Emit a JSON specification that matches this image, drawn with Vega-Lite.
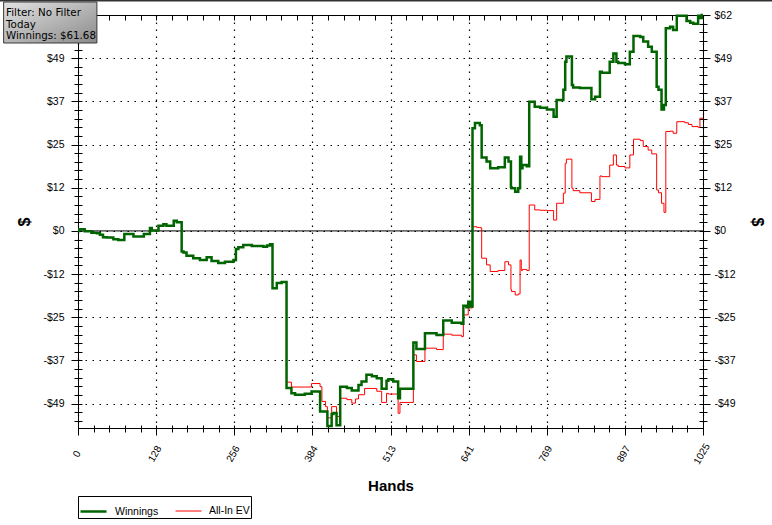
{
 "$schema": "https://vega.github.io/schema/vega-lite/v6.json",
 "width": 625,
 "height": 413,
 "autosize": {"type": "none"},
 "padding": {"left": 78, "top": 15, "right": 69, "bottom": 97},
 "background": "white",
 "datasets": {
  "win": [
   {"hand":0,"usd":0},{"hand":2,"usd":0.5},{"hand":11,"usd":-0.1},{"hand":22,"usd":-0.5},{"hand":31,"usd":-0.7},{"hand":36,"usd":-1.1},{"hand":41,"usd":-1.8},{"hand":47,"usd":-1.9},{"hand":58,"usd":-2.4},{"hand":66,"usd":-2.6},{"hand":76,"usd":-0.9},{"hand":91,"usd":-1.6},{"hand":108,"usd":-0.9},{"hand":118,"usd":0.8},{"hand":121,"usd":0.1},{"hand":132,"usd":1.5},{"hand":140,"usd":1.9},{"hand":145,"usd":1.5},{"hand":157,"usd":2.9},{"hand":162,"usd":2.5},{"hand":170,"usd":-5.9},{"hand":173,"usd":-6.2},{"hand":178,"usd":-7.1},{"hand":189,"usd":-7.8},{"hand":200,"usd":-8.3},{"hand":211,"usd":-7.5},{"hand":219,"usd":-8.6},{"hand":230,"usd":-9.2},{"hand":241,"usd":-8.8},{"hand":255,"usd":-8.3},{"hand":259,"usd":-5.2},{"hand":263,"usd":-4.7},{"hand":271,"usd":-4.0},{"hand":285,"usd":-4.3},{"hand":304,"usd":-4.5},{"hand":310,"usd":-4.2},{"hand":315,"usd":-3.8},{"hand":319,"usd":-16.4},{"hand":326,"usd":-14.9},{"hand":334,"usd":-14.6},
   {"hand":342,"usd":-44.9},{"hand":350,"usd":-46.4},{"hand":356,"usd":-46.8},{"hand":372,"usd":-46.5},{"hand":383,"usd":-45.9},{"hand":397,"usd":-51.6},{"hand":409,"usd":-55.7},{"hand":416,"usd":-52.3},{"hand":419,"usd":-52.0},{"hand":424,"usd":-55.5},{"hand":430,"usd":-44.5},{"hand":441,"usd":-44.9},{"hand":449,"usd":-45.6},{"hand":460,"usd":-44.0},{"hand":465,"usd":-43.0},{"hand":473,"usd":-41.1},{"hand":482,"usd":-41.5},{"hand":490,"usd":-42.1},{"hand":498,"usd":-45.1},{"hand":506,"usd":-42.8},{"hand":509,"usd":-42.4},{"hand":517,"usd":-43.0},{"hand":525,"usd":-47.8},{"hand":528,"usd":-45.1},{"hand":550,"usd":-31.9},{"hand":555,"usd":-33.7},{"hand":569,"usd":-29.2},{"hand":588,"usd":-29.7},{"hand":599,"usd":-25.6},{"hand":613,"usd":-26.2},{"hand":629,"usd":-26.5},{"hand":632,"usd":-21.4},{"hand":637,"usd":-21.8},{"hand":640,"usd":-20.2},{"hand":644,"usd":-21.6},
   {"hand":647,"usd":29.3},{"hand":651,"usd":30.8},{"hand":659,"usd":30.2},{"hand":662,"usd":21.0},{"hand":670,"usd":19.8},{"hand":676,"usd":17.9},{"hand":689,"usd":18.2},{"hand":700,"usd":21.0},{"hand":706,"usd":19.8},{"hand":710,"usd":12.5},{"hand":711,"usd":12.2},{"hand":717,"usd":11.2},{"hand":722,"usd":12.2},{"hand":725,"usd":21.2},{"hand":727,"usd":17.9},{"hand":729,"usd":18.8},{"hand":736,"usd":18.5},{"hand":740,"usd":36.9},{"hand":749,"usd":35.5},{"hand":758,"usd":35.2},{"hand":769,"usd":34.7},{"hand":780,"usd":32.6},{"hand":785,"usd":37.4},{"hand":796,"usd":40.3},{"hand":799,"usd":48.3},{"hand":801,"usd":49.8},{"hand":810,"usd":41.7},{"hand":812,"usd":41.0},{"hand":823,"usd":40.8},{"hand":842,"usd":37.6},{"hand":848,"usd":38.3},{"hand":856,"usd":45.5},{"hand":859,"usd":45.2},{"hand":872,"usd":48.3},{"hand":878,"usd":50.7},{"hand":883,"usd":48.3},{"hand":886,"usd":48.0},{"hand":897,"usd":47.6},{"hand":905,"usd":51.2},{"hand":911,"usd":55.7},{"hand":922,"usd":55.4},{"hand":927,"usd":54.1},{"hand":935,"usd":52.6},{"hand":941,"usd":51.2},{"hand":949,"usd":41.2},{"hand":952,"usd":40.3},{"hand":957,"usd":34.7},{"hand":961,"usd":36.0},{"hand":964,"usd":57.9},{"hand":971,"usd":58.3},{"hand":976,"usd":57.4},{"hand":982,"usd":61.5},{"hand":998,"usd":60.0},{"hand":1004,"usd":59.5},{"hand":1009,"usd":59.2},{"hand":1017,"usd":61.5},{"hand":1020,"usd":60.8},{"hand":1023,"usd":61.68},{"hand":1025,"usd":61.68}
  ],
  "ev": [
   {"hand":0,"usd":0},{"hand":2,"usd":0.5},{"hand":11,"usd":-0.1},{"hand":22,"usd":-0.5},{"hand":31,"usd":-0.7},{"hand":36,"usd":-1.1},{"hand":41,"usd":-1.8},{"hand":47,"usd":-1.9},{"hand":58,"usd":-2.4},{"hand":66,"usd":-2.6},{"hand":76,"usd":-0.9},{"hand":91,"usd":-1.6},{"hand":108,"usd":-0.9},{"hand":118,"usd":0.8},{"hand":121,"usd":0.1},{"hand":132,"usd":1.5},{"hand":140,"usd":1.9},{"hand":145,"usd":1.5},{"hand":157,"usd":2.9},{"hand":162,"usd":2.5},{"hand":170,"usd":-5.9},{"hand":173,"usd":-6.2},{"hand":178,"usd":-7.1},{"hand":189,"usd":-7.8},{"hand":200,"usd":-8.3},{"hand":211,"usd":-7.5},{"hand":219,"usd":-8.6},{"hand":230,"usd":-9.2},{"hand":241,"usd":-8.8},{"hand":255,"usd":-8.3},{"hand":259,"usd":-5.2},{"hand":263,"usd":-4.7},{"hand":271,"usd":-4.0},{"hand":285,"usd":-4.3},{"hand":304,"usd":-4.5},{"hand":310,"usd":-4.2},{"hand":315,"usd":-3.8},{"hand":319,"usd":-16.4},{"hand":326,"usd":-14.9},{"hand":334,"usd":-14.6},
   {"hand":342,"usd":-43.2},{"hand":350,"usd":-44.6},{"hand":383,"usd":-43.6},{"hand":397,"usd":-44.5},{"hand":400,"usd":-48.7},{"hand":406,"usd":-50.2},{"hand":409,"usd":-53.4},{"hand":416,"usd":-50.2},{"hand":424,"usd":-53.0},{"hand":430,"usd":-47.8},{"hand":441,"usd":-48.2},{"hand":449,"usd":-49.2},{"hand":455,"usd":-48.0},{"hand":460,"usd":-46.8},{"hand":470,"usd":-45.0},{"hand":490,"usd":-45.8},{"hand":498,"usd":-49.0},{"hand":506,"usd":-46.4},{"hand":509,"usd":-46.6},{"hand":525,"usd":-52.1},{"hand":528,"usd":-49.0},{"hand":550,"usd":-35.4},{"hand":555,"usd":-37.3},{"hand":569,"usd":-33.5},{"hand":588,"usd":-33.9},{"hand":599,"usd":-29.5},{"hand":613,"usd":-29.8},{"hand":629,"usd":-30.2},{"hand":632,"usd":-24.0},{"hand":640,"usd":-22.0},
   {"hand":647,"usd":1.2},{"hand":654,"usd":1.0},{"hand":659,"usd":0.9},{"hand":662,"usd":-7.8},{"hand":670,"usd":-9.7},{"hand":676,"usd":-11.6},{"hand":689,"usd":-11.3},{"hand":700,"usd":-8.8},{"hand":706,"usd":-9.7},{"hand":710,"usd":-16.8},{"hand":711,"usd":-17.3},{"hand":717,"usd":-18.3},{"hand":722,"usd":-18.0},{"hand":725,"usd":-8.3},{"hand":727,"usd":-11.3},{"hand":729,"usd":-11.0},{"hand":736,"usd":-11.3},{"hand":740,"usd":7.4},{"hand":749,"usd":6.0},{"hand":758,"usd":5.9},{"hand":769,"usd":5.8},{"hand":780,"usd":3.1},{"hand":785,"usd":7.9},{"hand":796,"usd":10.8},{"hand":799,"usd":19.3},{"hand":801,"usd":20.5},{"hand":810,"usd":12.2},{"hand":812,"usd":11.5},{"hand":823,"usd":10.9},{"hand":842,"usd":8.4},{"hand":848,"usd":9.0},{"hand":856,"usd":15.7},{"hand":859,"usd":15.5},{"hand":872,"usd":18.8},{"hand":878,"usd":21.7},{"hand":883,"usd":18.8},{"hand":886,"usd":18.4},{"hand":897,"usd":18.0},{"hand":905,"usd":21.7},{"hand":911,"usd":26.2},{"hand":922,"usd":25.8},{"hand":927,"usd":24.1},{"hand":935,"usd":23.1},{"hand":941,"usd":22.0},{"hand":949,"usd":11.7},{"hand":952,"usd":10.9},{"hand":957,"usd":7.9},{"hand":961,"usd":5.3},{"hand":964,"usd":28.4},{"hand":971,"usd":28.5},{"hand":976,"usd":27.9},{"hand":982,"usd":31.2},{"hand":995,"usd":30.9},{"hand":1001,"usd":30.4},{"hand":1007,"usd":29.8},{"hand":1017,"usd":29.6},{"hand":1020,"usd":32.2},{"hand":1025,"usd":32.2}
  ],
  "note": [{"label": "Filter"}]
 },
 "config": {
  "view": {"stroke": "black", "strokeWidth": 1},
  "font": "Liberation Sans",
  "axis": {
   "domain": false,
   "labelFont": "Liberation Sans",
   "labelFontSize": 10.5,
   "labelColor": "black",
   "tickColor": "black",
   "tickWidth": 1,
   "titleColor": "black",
   "labelOverlap": false,
   "labelFlush": false,
   "labelBound": false,
   "gridColor": "black",
   "gridDash": [1.5, 5.5],
   "gridWidth": 1.2
  }
 },
 "resolve": {"axis": {"x": "independent", "y": "independent"}},
 "layer": [
  {
   "data": {"name": "note"},
   "mark": {"type": "rule", "color": "black", "strokeWidth": 1},
   "encoding": {"y": {"datum": 0, "type": "quantitative", "axis": null}}
  },
  {
   "data": {"name": "ev"},
   "mark": {"type": "line", "interpolate": "step-after"},
   "encoding": {
    "x": {
     "field": "hand", "type": "quantitative",
     "scale": {"domain": [0, 1025], "nice": false, "zero": false},
     "axis": {
      "orient": "bottom",
      "values": [0,25.625,51.25,76.875,102.5,128.125,153.75,179.375,205,230.625,256.25,281.875,307.5,333.125,358.75,384.375,410,435.625,461.25,486.875,512.5,538.125,563.75,589.375,615,640.625,666.25,691.875,717.5,743.125,768.75,794.375,820,845.625,871.25,896.875,922.5,948.125,973.75,999.375,1025],
      "labelExpr": "abs(datum.value/128.125 - round(datum.value/128.125)) < 0.001 ? format(datum.value, '.0f') : ''",
      "offset": -3,
      "tickSize": {"condition": {"test": "abs(datum.value/128.125 - round(datum.value/128.125)) < 0.001", "value": 10}, "value": 7},
      "grid": true,
      "gridOpacity": {"condition": {"test": "abs(datum.value/128.125 - round(datum.value/128.125)) < 0.001", "value": 1}, "value": 0},
      "labelAngle": -60,
      "labelAlign": "center",
      "labelBaseline": "middle",
      "labelPadding": 18.5,
      "labelOffset": -1.5,
      "labelFontSize": 10,
      "title": "Hands",
      "titleFont": "Liberation Sans",
      "titleFontSize": 15,
      "titleFontWeight": "bold",
      "titlePadding": 13
     }
    },
    "y": {
     "field": "usd", "type": "quantitative",
     "scale": {"domain": [-56.3, 61.68], "nice": false, "zero": false},
     "axis": {
      "orient": "left",
      "values": [-54.2784,-51.8112,-49.344,-46.8768,-44.4096,-41.9424,-39.4752,-37.008,-34.5408,-32.0736,-29.6064,-27.1392,-24.672,-22.2048,-19.7376,-17.2704,-14.8032,-12.336,-9.8688,-7.4016,-4.9344,-2.4672,0,2.4672,4.9344,7.4016,9.8688,12.336,14.8032,17.2704,19.7376,22.2048,24.672,27.1392,29.6064,32.0736,34.5408,37.008,39.4752,41.9424,44.4096,46.8768,49.344,51.8112,54.2784,56.7456,59.2128,61.68],
      "labelExpr": "datum.value < 61 && abs(datum.value/12.336 - round(datum.value/12.336)) < 0.001 ? (datum.value < -0.01 ? '-$' : '$') + format(abs(datum.value), '.0f') : ''",
      "offset": -4,
      "tickSize": {"condition": {"test": "abs(datum.value/12.336 - round(datum.value/12.336)) < 0.001", "value": 11}, "value": 8},
      "grid": true,
      "gridOpacity": {"condition": {"test": "abs(datum.value/12.336 - round(datum.value/12.336)) < 0.001", "value": 1}, "value": 0},
      "labelPadding": 7,
      "title": "$",
      "titleFont": "Liberation Sans",
      "titleFontSize": 16,
      "titleFontWeight": "bold",
      "titlePadding": 10
     }
    },
    "color": {
     "datum": "All-In EV", "type": "nominal",
     "scale": {"domain": ["Winnings", "All-In EV"], "range": ["#006400", "#ff0000"]},
     "legend": {
      "title": null, "orient": "bottom", "direction": "horizontal",
      "symbolType": "stroke", "symbolSize": 676,
      "labelFont": "Liberation Sans", "labelFontSize": 10.5, "labelColor": "black",
      "labelOffset": 7, "columnPadding": 14,
      "strokeColor": "black", "padding": 1, "offset": 2
     }
    },
    "strokeWidth": {
     "datum": "All-In EV", "type": "nominal",
     "scale": {"domain": ["Winnings", "All-In EV"], "range": [2.5, 1], "padding": 0},
     "legend": {
      "title": null, "orient": "bottom", "direction": "horizontal",
      "symbolType": "stroke", "symbolSize": 676,
      "labelFont": "Liberation Sans", "labelFontSize": 10.5, "labelColor": "black",
      "labelOffset": 7, "columnPadding": 14,
      "strokeColor": "black", "padding": 1, "offset": 2
     }
    }
   }
  },
  {
   "data": {"name": "win"},
   "mark": {"type": "line", "interpolate": "step-after"},
   "encoding": {
    "x": {
     "field": "hand", "type": "quantitative",
     "axis": {
      "orient": "top",
      "values": [0,25.625,51.25,76.875,102.5,128.125,153.75,179.375,205,230.625,256.25,281.875,307.5,333.125,358.75,384.375,410,435.625,461.25,486.875,512.5,538.125,563.75,589.375,615,640.625,666.25,691.875,717.5,743.125,768.75,794.375,820,845.625,871.25,896.875,922.5,948.125,973.75,999.375,1025],
      "labels": false,
      "tickSize": -5,
      "grid": false,
      "title": null
     }
    },
    "y": {
     "field": "usd", "type": "quantitative",
     "axis": {
      "orient": "right",
      "values": [-54.2784,-51.8112,-49.344,-46.8768,-44.4096,-41.9424,-39.4752,-37.008,-34.5408,-32.0736,-29.6064,-27.1392,-24.672,-22.2048,-19.7376,-17.2704,-14.8032,-12.336,-9.8688,-7.4016,-4.9344,-2.4672,0,2.4672,4.9344,7.4016,9.8688,12.336,14.8032,17.2704,19.7376,22.2048,24.672,27.1392,29.6064,32.0736,34.5408,37.008,39.4752,41.9424,44.4096,46.8768,49.344,51.8112,54.2784,56.7456,59.2128,61.68],
      "labelExpr": "abs(datum.value/12.336 - round(datum.value/12.336)) < 0.001 ? (datum.value < -0.01 ? '-$' : '$') + format(abs(datum.value), '.0f') : ''",
      "offset": -4,
      "tickSize": {"condition": {"test": "abs(datum.value/12.336 - round(datum.value/12.336)) < 0.001", "value": 11}, "value": 8},
      "grid": false,
      "labelPadding": 4,
      "title": "$",
      "titleFont": "Liberation Sans",
      "titleFontSize": 16,
      "titleFontWeight": "bold",
      "titlePadding": 13
     }
    },
    "color": {"datum": "Winnings", "type": "nominal"},
    "strokeWidth": {"datum": "Winnings", "type": "nominal"}
   }
  },
  {
   "data": {"name": "note"},
   "mark": {"type": "rect", "fill": {"gradient": "linear", "x1": 0, "y1": 0, "x2": 1, "y2": 1, "stops": [{"offset": 0, "color": "#e2e2e2"}, {"offset": 1, "color": "#8a8a8a"}]}, "stroke": "#3a3a3a", "strokeWidth": 1},
   "encoding": {
    "x": {"datum": -122, "type": "quantitative", "axis": null},
    "x2": {"datum": 31},
    "y": {"datum": 65.39, "type": "quantitative", "axis": null},
    "y2": {"datum": 53.68}
   }
  },
  {
   "data": {"name": "note"},
   "mark": {"type": "text", "text": ["Filter: No Filter", "Today", "Winnings: $61.68"], "align": "left", "baseline": "top", "font": "DejaVu Sans", "fontSize": 10.3, "lineHeight": 11.7, "color": "black"},
   "encoding": {
    "x": {"datum": -118, "type": "quantitative", "axis": null},
    "y": {"datum": 63.7, "type": "quantitative", "axis": null}
   }
  },
  {
   "data": {"name": "note"},
   "mark": {"type": "rule", "color": "#333333", "strokeWidth": 2},
   "encoding": {
    "x": {"datum": -128, "type": "quantitative", "axis": null},
    "x2": {"datum": 1140},
    "y": {"datum": 65.83, "type": "quantitative", "axis": null}
   }
  }
 ]
}
